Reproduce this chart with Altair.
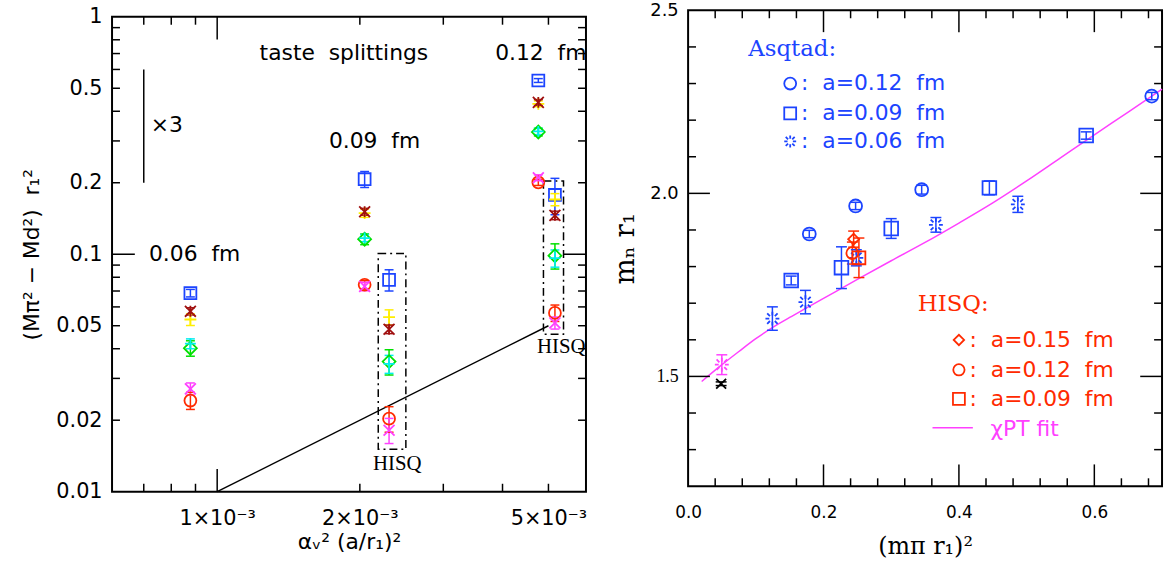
import altair as alt
import pandas as pd

# ---------------- LEFT PANEL : taste splittings ----------------
X_ASQ = [8.78e-4, 2.047e-3, 4.76e-3]      # Asqtad a = 0.06, 0.09, 0.12 fm
X_HISQ = [2.305e-3, 5.16e-3]              # HISQ  a = 0.09, 0.12 fm

BLUE_ASQ = [0.0686, 0.207, 0.539]
BLUE_ASQ_ERR = [0.0025, 0.016, 0.01]
BLUE_HISQ = [0.078, 0.1777]
BLUE_HISQ_ERR = [0.008, 0.031]
YELLOW_ASQ = [0.0531, 0.149, 0.43]
YELLOW_ASQ_ERR = [0.003, 0.006, 0.012]
YELLOW_HISQ = [0.0543, 0.17]
YELLOW_HISQ_ERR = [0.004, 0.01]
DKRED_ASQ = [0.0575, 0.151, 0.436]
DKRED_ASQ_ERR = [0.002, 0.005, 0.012]
DKRED_HISQ = [0.0483, 0.1458]
DKRED_HISQ_ERR = [0.002, 0.006]
GREEN_ASQ = [0.0402, 0.1157, 0.327]
GREEN_ASQ_ERR = [0.003, 0.006, 0.012]
GREEN_HISQ = [0.0353, 0.0986]
GREEN_HISQ_ERR = [0.0043, 0.012]
CYAN_ASQ = [0.042, 0.117, 0.329]
CYAN_ASQ_ERR = [0.002, 0.004, 0.01]
CYAN_HISQ = [0.0345, 0.0962]
CYAN_HISQ_ERR = [0.003, 0.008]
RED_ASQ = [0.0242, 0.0744, 0.2008]
RED_ASQ_ERR = [0.002, 0.003, 0.006]
RED_HISQ = [0.0203, 0.0566]
RED_HISQ_ERR = [0.0025, 0.0045]
MAG_ASQ = [0.0271, 0.0732, 0.21]
MAG_ASQ_ERR = [0.0016, 0.003, 0.006]
MAG_HISQ = [0.01815, 0.0514]
MAG_HISQ_ERR = [0.0022, 0.003]

NB = "\u00a0"
L_TEXT = ["taste" + NB + " splittings", "0.12" + NB + " fm", "0.09" + NB + " fm",
          "0.06" + NB + " fm", "\u00d73"]
L_TEXT_X = [1.229e-3, 3.86e-3, 1.721e-3, 7.18e-4, 7.24e-4]
L_TEXT_Y = [0.70, 0.70, 0.301, 0.1, 0.35]
HISQ_LBL_X = [2.398e-3, 5.32e-3]
HISQ_LBL_Y = [0.01313, 0.04053]
BOX_X1 = [2.187e-3, 4.88e-3]
BOX_X2 = [2.501e-3, 5.38e-3]
BOX_Y1 = [0.01508, 0.046]
BOX_Y2 = [0.1008, 0.2036]
REF_LINE_X = [1e-3, 5e-3]
REF_LINE_Y = [0.01, 0.05]
BAR_X = [7e-4]
BAR_Y1 = [0.2]
BAR_Y2 = [0.6]

L_XTICK_MAJ = [1e-3]
L_XTICK_MIN = [7e-4, 8e-4, 9e-4, 2e-3, 3e-3, 4e-3, 5e-3]
L_YTICK_MAJ = [0.1]
L_YTICK_MIN = [0.02, 0.03, 0.04, 0.05, 0.06, 0.07, 0.08, 0.09,
               0.2, 0.3, 0.4, 0.5, 0.6, 0.7, 0.8, 0.9]
L_XLABELS = [0.001, 0.002, 0.005]
L_YLABELS = [0.01, 0.02, 0.05, 0.1, 0.2, 0.5, 1]

# ---------------- RIGHT PANEL : nucleon mass ----------------
ASQ12_X = [0.179, 0.2474, 0.345, 0.6848]
ASQ12_Y = [1.889, 1.9656, 2.010, 2.2657]
ASQ12_E = [0.01, 0.01, 0.012, 0.01]
ASQ09_X = [0.1523, 0.2265, 0.300, 0.445, 0.588]
ASQ09_Y = [1.762, 1.797, 1.904, 2.015, 2.158]
ASQ09_E = [0.012, 0.057, 0.027, 0.019, 0.01]
ASQ06_X = [0.1245, 0.1733, 0.2485, 0.366, 0.487]
ASQ06_Y = [1.658, 1.703, 1.824, 1.914, 1.970]
ASQ06_E = [0.032, 0.032, 0.022, 0.02, 0.022]
HISQ15_X = [0.2445]
HISQ15_Y = [1.875]
HISQ15_E = [0.022]
HISQ12_X = [0.2426]
HISQ12_Y = [1.837]
HISQ12_E = [0.03]
HISQ09_X = [0.2523]
HISQ09_Y = [1.824]
HISQ09_E = [0.054]
PHYS_X = [0.0498]
PHYS_Y = [1.532]
PHYS_E = [0.027]
BLACK_X = [0.0488]
BLACK_Y = [1.480]
BLACK_E = [0.005]

FIT_X = [0.02, 0.05, 0.075, 0.1, 0.125, 0.15, 0.175, 0.2, 0.25, 0.3, 0.35, 0.4, 0.45, 0.5,
         0.55, 0.6, 0.65, 0.7]
FIT_Y = [1.486, 1.532, 1.568, 1.603, 1.634, 1.661, 1.687, 1.713, 1.765, 1.816, 1.866, 1.919,
         1.974, 2.034, 2.097, 2.160, 2.222, 2.285]

ASQ_LEG_TEXT = ["Asqtad:"]
ASQ_LEG_HX = [0.0889]
ASQ_LEG_HY = [2.395]
ASQ_ENTRIES = [":" + NB + " a=0.12" + NB + " fm", ":" + NB + " a=0.09" + NB + " fm",
               ":" + NB + " a=0.06" + NB + " fm"]
ASQ_ENTRY_Y = [2.300, 2.2186, 2.1418]
ASQ_SYM_X = 0.1508
ASQ_TXT_X = 0.1669
HISQ_LEG_TEXT = ["HISQ:"]
HISQ_LEG_HX = [0.3392]
HISQ_LEG_HY = [1.699]
HISQ_ENTRIES = [":" + NB + " a=0.15" + NB + " fm", ":" + NB + " a=0.12" + NB + " fm",
                ":" + NB + " a=0.09" + NB + " fm"]
HISQ_ENTRY_Y = [1.5995, 1.518, 1.4387]
HISQ_SYM_X = 0.400
HISQ_TXT_X = 0.4158
FIT_LEG_X = [0.361, 0.4206]
FIT_LEG_Y = [1.360, 1.360]
FIT_LEG_TEXT = ["\u03c7PT" + NB + "fit"]
FIT_LEG_TX = [0.4466]
FIT_LEG_TY = [1.357]

R_XTICK_MAJ = [0.2, 0.4, 0.6]
R_XTICK_MIN = [0.04, 0.08, 0.12, 0.16, 0.24, 0.28, 0.32, 0.36, 0.44, 0.48, 0.52, 0.56, 0.64, 0.68]
R_YTICK_MAJ = [1.5, 2.0]
R_YTICK_MIN = [1.3, 1.4, 1.6, 1.7, 1.8, 1.9, 2.1, 2.2, 2.3, 2.4]
R_XLABELS = [0.0, 0.2, 0.4, 0.6]
R_YLABELS = [1.5, 2.0, 2.5]

# ---------------- styles ----------------
BLUE = "#1c44ff"
RED = "#ff2a00"
MAGENTA = "#ff40ff"
DKRED = "#a01010"
YELLOW = "#ffee00"
GREEN = "#00e000"
CYAN = "#00eeee"

P_PLUS = "M-1,0L1,0M0,-1L0,1"
P_X = "M-1,-1L1,1M-1,1L1,-1"
P_ZH = "M-1,-1L1,1M-1,1L1,-1M0,-1L0,1"
P_BURST = ("M0,-1L0,-0.45M0,0.45L0,1M-1,0L-0.45,0M0.45,0L1,0"
           "M-0.75,-0.75L-0.35,-0.35M0.35,0.35L0.75,0.75"
           "M-0.75,0.75L-0.35,0.35M0.35,-0.35L0.75,-0.75")
P_CAP = "M-1,0L1,0"

SANS = "DejaVu Sans"
SERIF = "DejaVu Serif"
TIMES = "Liberation Serif"


def point_table(series):
    rows = []
    for xs, ys, es, col, shp, sz in series:
        for x, y, e in zip(xs, ys, es):
            rows.append(dict(x=x, y=y, lo=y - e, hi=y + e, col=col, shp=shp, sz=sz))
    return pd.DataFrame(rows)


def cap_table(pts):
    a = pts[["x", "lo", "col"]].rename(columns={"lo": "y"})
    b = pts[["x", "hi", "col"]].rename(columns={"hi": "y"})
    return pd.concat([a, b], ignore_index=True)


class Panel:
    def __init__(self, xs, ys, xaxis, yaxis):
        self.xs, self.ys, self.xaxis, self.yaxis = xs, ys, xaxis, yaxis

    def X(self, f):
        return alt.X(f, scale=self.xs, axis=self.xaxis)

    def Y(self, f):
        return alt.Y(f, scale=self.ys, axis=self.yaxis)


def tick_layers(P, W, H, xmaj, xmin, ymaj, ymin, lmaj, lmin):
    out = []
    for vals, ln in [(xmaj, lmaj), (xmin, lmin)]:
        base = alt.Chart(pd.DataFrame({"v": vals})).mark_rule(color="black", strokeWidth=1.5)
        out.append(base.encode(x=P.X("v:Q"), y=alt.value(0), y2=alt.value(ln)))
        out.append(base.encode(x=P.X("v:Q"), y=alt.value(H), y2=alt.value(H - ln)))
    for vals, ln in [(ymaj, lmaj), (ymin, lmin)]:
        base = alt.Chart(pd.DataFrame({"v": vals})).mark_rule(color="black", strokeWidth=1.5)
        out.append(base.encode(y=P.Y("v:Q"), x=alt.value(0), x2=alt.value(ln)))
        out.append(base.encode(y=P.Y("v:Q"), x=alt.value(W), x2=alt.value(W - ln)))
    return out


def point_layers(P, pts, capsize, errw=1.5, ptw=1.8):
    caps = cap_table(pts)
    err = alt.Chart(pts).mark_rule(strokeWidth=errw).encode(
        x=P.X("x:Q"), y=P.Y("lo:Q"), y2="hi:Q", color=alt.Color("col:N", scale=None))
    cp = alt.Chart(caps).mark_point(filled=False, opacity=1, strokeWidth=errw, shape=P_CAP,
                                    size=capsize).encode(
        x=P.X("x:Q"), y=P.Y("y:Q"), color=alt.Color("col:N", scale=None))
    pt = alt.Chart(pts).mark_point(filled=False, opacity=1, strokeWidth=ptw).encode(
        x=P.X("x:Q"), y=P.Y("y:Q"),
        color=alt.Color("col:N", scale=None), shape=alt.Shape("shp:N", scale=None),
        size=alt.Size("sz:Q", scale=None))
    return [err, cp, pt]


def text_layer(P, xv, yv, tv, font, size, color, align="left"):
    df = pd.DataFrame({"x": xv, "y": yv, "t": tv})
    return alt.Chart(df).mark_text(font=font, fontSize=size, color=color, align=align,
                                   baseline="middle").encode(
        x=P.X("x:Q"), y=P.Y("y:Q"), text="t:N")


# ================= LEFT =================
W1, H1 = 478, 479
xsL = alt.Scale(type="log", domain=[6e-4, 6e-3], nice=False)
ysL = alt.Scale(type="log", domain=[0.01, 1], nice=False)

xaxisL = alt.Axis(values=L_XLABELS, labelExpr="round(datum.value*1000) + '\u00d710\u207b\u00b3'",
                  ticks=False, domain=False, grid=False, labelFlush=False, labelOverlap=False,
                  labelFont=SANS, labelFontSize=21, labelColor="black", labelPadding=16,
                  title="\u03b1\u1d65\u00b2 (a/r\u2081)\u00b2", titleFont=SANS, titleFontSize=22,
                  titleFontWeight="normal", titleColor="black", titlePadding=3)
yaxisL = alt.Axis(values=L_YLABELS, format="~g", ticks=False, domain=False, grid=False,
                  labelFlush=False, labelOverlap=False,
                  labelFont=SANS, labelFontSize=21, labelColor="black", labelPadding=10,
                  title="(M\u03c0\u00b2 \u2212 Md\u00b2)" + NB + " r\u2081\u00b2", titleFont=SANS,
                  titleFontSize=22, titleFontWeight="normal", titleColor="black", titlePadding=12)
PL = Panel(xsL, ysL, xaxisL, yaxisL)

left_series = []
for xs_, groups in [(X_ASQ, [
        (BLUE_ASQ, BLUE_ASQ_ERR, BLUE, "square", 144),
        (YELLOW_ASQ, YELLOW_ASQ_ERR, YELLOW, P_PLUS, 144),
        (DKRED_ASQ, DKRED_ASQ_ERR, DKRED, P_ZH, 121),
        (GREEN_ASQ, GREEN_ASQ_ERR, GREEN, "diamond", 169),
        (CYAN_ASQ, CYAN_ASQ_ERR, CYAN, P_PLUS, 121),
        (RED_ASQ, RED_ASQ_ERR, RED, "circle", 144),
        (MAG_ASQ, MAG_ASQ_ERR, MAGENTA, P_X, 121)]),
        (X_HISQ, [
        (BLUE_HISQ, BLUE_HISQ_ERR, BLUE, "square", 144),
        (YELLOW_HISQ, YELLOW_HISQ_ERR, YELLOW, P_PLUS, 144),
        (DKRED_HISQ, DKRED_HISQ_ERR, DKRED, P_ZH, 121),
        (GREEN_HISQ, GREEN_HISQ_ERR, GREEN, "diamond", 169),
        (CYAN_HISQ, CYAN_HISQ_ERR, CYAN, P_PLUS, 121),
        (RED_HISQ, RED_HISQ_ERR, RED, "circle", 144),
        (MAG_HISQ, MAG_HISQ_ERR, MAGENTA, P_X, 121)])]:
    for ys_, es_, col, shp, sz in groups:
        left_series.append((xs_, ys_, es_, col, shp, sz))
ptsL = point_table(left_series)

boxes = alt.Chart(pd.DataFrame({"x1": BOX_X1, "x2": BOX_X2, "y1": BOX_Y1, "y2": BOX_Y2})).mark_rect(
    fillOpacity=0, stroke="black", strokeWidth=1.5, strokeDash=[8, 4, 2, 4]).encode(
    x=PL.X("x1:Q"), x2="x2:Q", y=PL.Y("y1:Q"), y2="y2:Q")
refline = alt.Chart(pd.DataFrame({"x": REF_LINE_X, "y": REF_LINE_Y})).mark_line(
    color="black", strokeWidth=1.5).encode(x=PL.X("x:Q"), y=PL.Y("y:Q"))
bar = alt.Chart(pd.DataFrame({"x": BAR_X, "y1": BAR_Y1, "y2": BAR_Y2})).mark_rule(
    color="black", strokeWidth=1.5).encode(x=PL.X("x:Q"), y=PL.Y("y1:Q"), y2="y2:Q")

left_layers = [boxes, refline, bar]
left_layers += tick_layers(PL, W1, H1, L_XTICK_MAJ, L_XTICK_MIN, L_YTICK_MAJ, L_YTICK_MIN, 23, 8)
left_layers += point_layers(PL, ptsL, capsize=81)
left_layers.append(text_layer(PL, L_TEXT_X, L_TEXT_Y, L_TEXT, SANS, 22, "black"))
left_layers.append(text_layer(PL, HISQ_LBL_X, HISQ_LBL_Y, ["HISQ", "HISQ"], TIMES, 21, "black",
                              align="center"))
left = alt.layer(*left_layers).properties(width=W1, height=H1)

# ================= RIGHT =================
W2, H2 = 478, 480
xsR = alt.Scale(domain=[0, 0.7], nice=False, zero=False)
ysR = alt.Scale(domain=[1.2, 2.5], nice=False, zero=False)

xaxisR = alt.Axis(values=R_XLABELS, format=".1f", ticks=False, domain=False, grid=False,
                  labelFlush=False, labelOverlap=False,
                  labelFont=SANS, labelFontSize=17, labelColor="black", labelPadding=19,
                  title="(m\u03c0 r\u2081)\u00b2", titleFont=SERIF, titleFontSize=24,
                  titleFontWeight="normal", titleColor="black", titlePadding=14)
yaxisR = alt.Axis(values=R_YLABELS, format=".1f", ticks=False, domain=False, grid=False,
                  labelFlush=False, labelOverlap=False,
                  labelFont={"condition": {"test": "datum.value == 1.5", "value": TIMES},
                             "value": SANS},
                  labelFontSize=18, labelColor="black", labelPadding=10,
                  title="m\u2099 r\u2081", titleFont=SERIF, titleFontSize=28,
                  titleFontWeight="normal", titleColor="black", titlePadding=10)
PR = Panel(xsR, ysR, xaxisR, yaxisR)

ptsR = point_table([
    (ASQ12_X, ASQ12_Y, ASQ12_E, BLUE, "circle", 169),
    (ASQ09_X, ASQ09_Y, ASQ09_E, BLUE, "square", 190),
    (ASQ06_X, ASQ06_Y, ASQ06_E, BLUE, P_BURST, 196),
    (HISQ15_X, HISQ15_Y, HISQ15_E, RED, "diamond", 121),
    (HISQ12_X, HISQ12_Y, HISQ12_E, RED, "circle", 144),
    (HISQ09_X, HISQ09_Y, HISQ09_E, RED, "square", 169),
    (PHYS_X, PHYS_Y, PHYS_E, MAGENTA, P_BURST, 196),
    (BLACK_X, BLACK_Y, BLACK_E, "black", P_X, 100),
])

fit = alt.Chart(pd.DataFrame({"x": FIT_X, "y": FIT_Y})).mark_line(
    color=MAGENTA, strokeWidth=1.5, interpolate="monotone").encode(x=PR.X("x:Q"), y=PR.Y("y:Q"))
fitleg = alt.Chart(pd.DataFrame({"x": FIT_LEG_X, "y": FIT_LEG_Y})).mark_line(
    color=MAGENTA, strokeWidth=1.5).encode(x=PR.X("x:Q"), y=PR.Y("y:Q"))

leg_sym = pd.DataFrame({
    "x": [ASQ_SYM_X] * 3 + [HISQ_SYM_X] * 3,
    "y": ASQ_ENTRY_Y + HISQ_ENTRY_Y,
    "col": [BLUE] * 3 + [RED] * 3,
    "shp": ["circle", "square", P_BURST, "diamond", "circle", "square"],
    "sz": [144, 144, 144, 110, 130, 144],
})
legpts = alt.Chart(leg_sym).mark_point(filled=False, opacity=1, strokeWidth=1.8).encode(
    x=PR.X("x:Q"), y=PR.Y("y:Q"),
    color=alt.Color("col:N", scale=None), shape=alt.Shape("shp:N", scale=None),
    size=alt.Size("sz:Q", scale=None))

right_layers = [fit]
right_layers += tick_layers(PR, W2, H2, R_XTICK_MAJ, R_XTICK_MIN, R_YTICK_MAJ, R_YTICK_MIN, 22, 8)
right_layers += point_layers(PR, ptsR, capsize=121)
right_layers += [
    fitleg, legpts,
    text_layer(PR, ASQ_LEG_HX, ASQ_LEG_HY, ASQ_LEG_TEXT, SERIF, 23, BLUE),
    text_layer(PR, [ASQ_TXT_X] * 3, ASQ_ENTRY_Y, ASQ_ENTRIES, SANS, 22, BLUE),
    text_layer(PR, HISQ_LEG_HX, HISQ_LEG_HY, HISQ_LEG_TEXT, SERIF, 23, RED),
    text_layer(PR, [HISQ_TXT_X] * 3, HISQ_ENTRY_Y, HISQ_ENTRIES, SANS, 22, RED),
    text_layer(PR, FIT_LEG_TX, FIT_LEG_TY, FIT_LEG_TEXT, SANS, 22, MAGENTA),
]
right = alt.layer(*right_layers).properties(width=W2, height=H2)

chart = alt.hconcat(left, right, spacing=23, center=True).configure_view(
    stroke="black", strokeWidth=2).properties(
    padding={"left": 20, "top": -2, "right": 0, "bottom": 0}, background="white")

chart.save("out.html", embed_options={"renderer": "svg", "actions": False})
